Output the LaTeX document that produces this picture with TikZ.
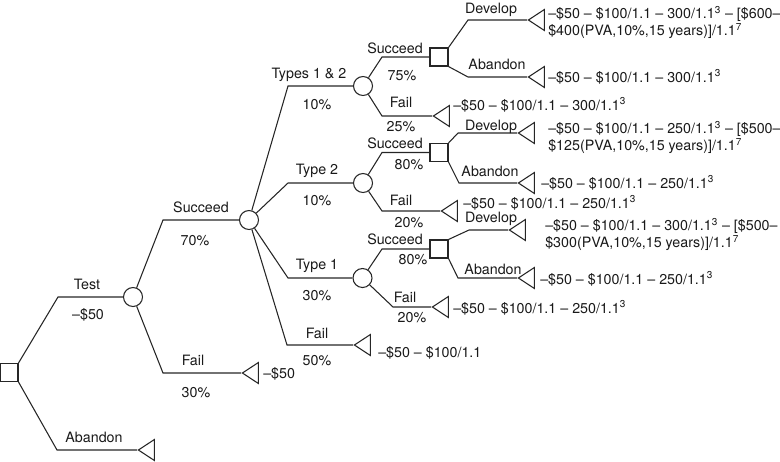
\documentclass[tikz,border=0pt]{standalone}
\usepackage{fontspec}
\setmainfont{TeX Gyre Heros}
\usetikzlibrary{shapes.geometric,calc}
\begin{document}
\begin{tikzpicture}[x=0.75pt,y=-0.75pt,
  ln/.style={draw=black!85, line width=0.8pt},
  chance/.style={circle, ln, minimum size=14.25pt, inner sep=0pt},
  decision/.style={rectangle, ln, minimum size=13.5pt, inner sep=0pt},
  endpt/.style={isosceles triangle, shape border rotate=180, isosceles triangle stretches,
    minimum width=15.75pt, minimum height=12pt, inner sep=0pt, ln, anchor=apex},
  txt/.style={font=\fontsize{10.7}{12.75}\selectfont, inner sep=0pt, text=black!90},
  lbl/.style={txt, anchor=base},
  val/.style={txt, anchor=base west},
  valtwo/.style={txt, anchor=west, align=left}
]
\useasboundingbox (0,0) rectangle (780,461);

% decision / chance nodes
\node[decision] (root) at (9,372.5) {};
\node[chance] (ctest) at (133,297) {};
\node[chance] (csucc) at (249,220) {};
\node[chance] (c12) at (363,86) {};
\node[chance] (c2) at (363,183) {};
\node[chance] (c1) at (362.5,278) {};
\node[decision] (s12) at (439,57) {};
\node[decision] (s2) at (439,152.5) {};
\node[decision] (s1) at (439,249) {};

% end points
\node[endpt] (e12d) at (527,20) {};
\node[endpt] (e12a) at (527,77) {};
\node[endpt] (e12f) at (432,116) {};
\node[endpt] (e2d) at (517,133) {};
\node[endpt] (e2a) at (517,183) {};
\node[endpt] (e2f) at (440,211) {};
\node[endpt] (e1d) at (508,230) {};
\node[endpt] (e1a) at (517,278) {};
\node[endpt] (e1f) at (431,307) {};
\node[endpt] (esf) at (353,345) {};
\node[endpt] (etf) at (241,373) {};
\node[endpt] (eab) at (137,450) {};

% connectors
\draw[ln] (root.north east) -- ($(ctest)+(-75,0)$) -- (ctest);
\draw[ln] (root.south east) -- ($(eab.apex)+(-80,0)$) -- (eab.apex);
\draw[ln] (ctest) -- ($(csucc)+(-86,0)$) -- (csucc);
\draw[ln] (ctest) -- ($(etf.apex)+(-78,0)$) -- (etf.apex);
\draw[ln] (csucc) -- ($(c12)+(-75,0)$) -- (c12);
\draw[ln] (csucc) -- ($(c2)+(-75,0)$) -- (c2);
\draw[ln] (csucc) -- ($(c1)+(-74.5,0)$) -- (c1);
\draw[ln] (csucc) -- ($(esf.apex)+(-66,0)$) -- (esf.apex);
\draw[ln] (c12) -- ($(s12)+(-57,0)$) -- (s12);
\draw[ln] (c12) -- ($(e12f.apex)+(-50,0)$) -- (e12f.apex);
\draw[ln] (s12.north east) -- ($(e12d.apex)+(-59,0)$) -- (e12d.apex);
\draw[ln] (s12.south east) -- ($(e12a.apex)+(-59,0)$) -- (e12a.apex);
\draw[ln] (c2) -- ($(s2)+(-57,0)$) -- (s2);
\draw[ln] (c2) -- ($(e2f.apex)+(-58,0)$) -- (e2f.apex);
\draw[ln] (s2.north east) -- ($(e2d.apex)+(-59,0)$) -- (e2d.apex);
\draw[ln] (s2.south east) -- ($(e2a.apex)+(-58,0)$) -- (e2a.apex);
\draw[ln] (c1) -- ($(s1)+(-57,0)$) -- (s1);
\draw[ln] (c1) -- ($(e1f.apex)+(-38,0)$) -- (e1f.apex);
\draw[ln] (s1.north east) -- ($(e1d.apex)+(-39,0)$) -- (e1d.apex);
\draw[ln] (s1.south east) -- ($(e1a.apex)+(-59,0)$) -- (e1a.apex);

% branch labels
\node[lbl] (lTest) at (87,289) {Test};
\node[lbl] (lTestc) at (88,319) {–\$50};
\node[lbl] (lAb) at (94,442) {Abandon};
\node[lbl] (lF0) at (193,365) {Fail};
\node[lbl] (lF0p) at (196,397) {30\%};
\node[lbl] (lS0) at (201,212) {Succeed};
\node[lbl] (lS0p) at (195,245) {70\%};
\node[lbl] (lT12) at (309,78) {Types 1 \& 2};
\node[lbl] (lT12p) at (317,109) {10\%};
\node[lbl] (lT2) at (317,174) {Type 2};
\node[lbl] (lT2p) at (317,205) {10\%};
\node[lbl] (lT1) at (317,269) {Type 1};
\node[lbl] (lT1p) at (317,300) {30\%};
\node[lbl] (lFs) at (317,338) {Fail};
\node[lbl] (lFsp) at (317,365) {50\%};
\node[lbl] (lS12) at (395,53) {Succeed};
\node[lbl] (lS12p) at (402,80) {75\%};
\node[lbl] (lF12) at (401,107) {Fail};
\node[lbl] (lF12p) at (401,131) {25\%};
\node[lbl] (lS2) at (395,148) {Succeed};
\node[lbl] (lS2p) at (409,169) {80\%};
\node[lbl] (lF2) at (401,205) {Fail};
\node[lbl] (lF2p) at (409,227) {20\%};
\node[lbl] (lS1) at (395,244) {Succeed};
\node[lbl] (lS1p) at (413,264) {80\%};
\node[lbl] (lF1) at (405,302) {Fail};
\node[lbl] (lF1p) at (412,322) {20\%};
\node[lbl] (lD12) at (491,13) {Develop};
\node[lbl] (lA12) at (497,69) {Abandon};
\node[lbl] (lD2) at (491,130) {Develop};
\node[lbl] (lA2) at (490,176) {Abandon};
\node[lbl] (lD1) at (491,222) {Develop};
\node[lbl] (lA1) at (493,274) {Abandon};

% payoffs
\node[valtwo] (v12d) at (548,22.5) {–\$50 – \$100/1.1 – 300/1.1\textsuperscript{3} – [\$600–\\\$400(PVA,10\%,15 years)]/1.1\textsuperscript{7}};
\node[val] (v12a) at (548,82) {–\$50 – \$100/1.1 – 300/1.1\textsuperscript{3}};
\node[val] (v12f) at (453,110) {–\$50 – \$100/1.1 – 300/1.1\textsuperscript{3}};
\node[valtwo] (v2d) at (548,137.5) {–\$50 – \$100/1.1 – 250/1.1\textsuperscript{3} – [\$500–\\\$125(PVA,10\%,15 years)]/1.1\textsuperscript{7}};
\node[val] (v2a) at (541,188) {–\$50 – \$100/1.1 – 250/1.1\textsuperscript{3}};
\node[val] (v2f) at (463,208) {–\$50 – \$100/1.1 – 250/1.1\textsuperscript{3}};
\node[valtwo] (v1d) at (545,234.5) {–\$50 – \$100/1.1 – 300/1.1\textsuperscript{3} – [\$500–\\\$300(PVA,10\%,15 years)]/1.1\textsuperscript{7}};
\node[val] (v1a) at (540,284) {–\$50 – \$100/1.1 – 250/1.1\textsuperscript{3}};
\node[val] (v1f) at (453,313) {–\$50 – \$100/1.1 – 250/1.1\textsuperscript{3}};
\node[val] (vsf) at (378,357) {–\$50 – \$100/1.1};
\node[val] (vtf) at (263,378) {–\$50};
\end{tikzpicture}
\end{document}
